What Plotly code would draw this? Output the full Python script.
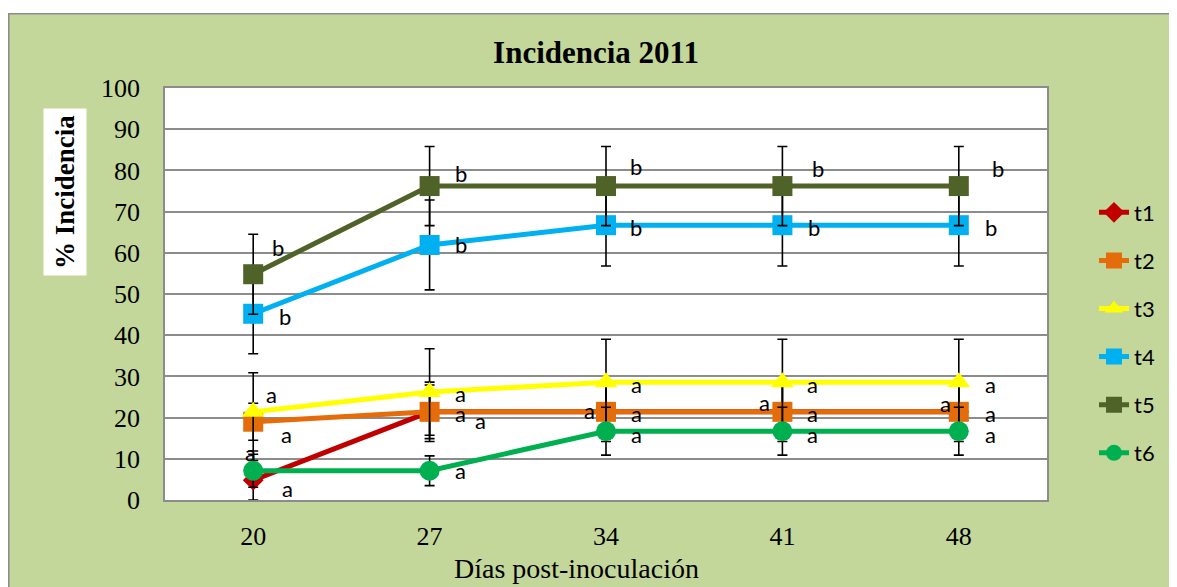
import plotly.graph_objects as go

days = ["20", "27", "34", "41", "48"]
series_names = ["t1", "t2", "t3", "t4", "t5", "t6"]
t1 = [4.8, 21.4, 21.4, 21.4, 21.4]
t2 = [19.0, 21.4, 21.4, 21.4, 21.4]
t3 = [21.4, 26.2, 28.6, 28.6, 28.6]
t4 = [45.2, 61.9, 66.7, 66.7, 66.7]
t5 = [54.8, 76.2, 76.2, 76.2, 76.2]
t6 = [7.1, 7.1, 16.7, 16.7, 16.7]
e1 = [4.8, 6.5, 6.5, 6.5, 6.5]
e2 = [4.5, 7.2, 7.2, 7.2, 7.2]
e3 = [9.5, 10.5, 10.4, 10.4, 10.4]
e4 = [9.7, 10.9, 9.9, 9.9, 9.9]
e5 = [9.7, 9.6, 9.6, 9.6, 9.6]
e6 = [4.0, 3.6, 5.8, 5.8, 5.8]
l1 = ["a", "a", "a", "a", "a"]
l2 = ["a", "a", "a", "a", "a"]
l3 = ["a", "a", "a", "a", "a"]
l4 = ["b", "b", "b", "b", "b"]
l5 = ["b", "b", "b", "b", "b"]
l6 = ["a", "a", "a", "a", "a"]

values = [t1, t2, t3, t4, t5, t6]
errors = [e1, e2, e3, e4, e5, e6]
letters = [l1, l2, l3, l4, l5, l6]

colors = ["#C00000", "#E46C0A", "#FFFF00", "#00B0F0", "#4F6228", "#00B050"]
symbols = ["diamond", "square", "triangle-up", "square", "square", "circle"]
msizes = [16, 20, 20, 20, 20, 20]
# label pixel offsets (dx right, dy down) relative to each point
offsets = [
    [(34, 8), (51, 9), (-17, -1), (-18, -9), (-13, -8)],
    [(33, 13), (31, 2), (30, 2), (30, 2), (32, 2)],
    [(18, -17), (31, 1), (30, 2), (30, 2), (32, 2)],
    [(32, 3), (31, 0), (30, 2), (32, 2), (32, 2)],
    [(25, -27), (31, -13), (30, -20), (36, -18), (39, -18)],
    [(-3, -18), (31, 0), (30, 3), (30, 3), (32, 3)],
]

fig = go.Figure()
for i, name in enumerate(series_names):
    fig.add_trace(go.Scatter(
        x=days, y=values[i], name=name, mode="lines+markers",
        line=dict(color=colors[i], width=5),
        marker=dict(symbol=symbols[i], size=msizes[i], color=colors[i]),
        error_y=dict(type="data", array=errors[i], visible=True,
                     color="black", thickness=1.6, width=5),
        legendgroup=name,
    ))

annotations = []
for i in range(len(series_names)):
    for j in range(len(days)):
        dx, dy = offsets[i][j]
        annotations.append(dict(
            x=j, y=values[i][j], xref="x", yref="y", text=letters[i][j],
            showarrow=False, xshift=dx, yshift=-dy,
            font=dict(family="Lato, Liberation Sans", size=22, color="black"),
        ))

# plot area in figure pixels: x 157..1039, y 80..492
def px(xp):
    return (xp - 157) / 882

def py(yp):
    return (492 - yp) / 412

annotations.append(dict(
    x=px(57), y=py(184), xref="paper", yref="paper",
    xanchor="center", yanchor="middle",
    text="<b>% Incidencia</b>", textangle=-90, showarrow=False,
    bgcolor="white", borderpad=6,
    font=dict(family="Liberation Serif", size=27, color="black"),
))
annotations.append(dict(
    x=px(568), y=py(560), xref="paper", yref="paper",
    xanchor="center", yanchor="middle",
    text="Días post-inoculación", showarrow=False,
    font=dict(family="Liberation Serif", size=28, color="black"),
))

green = "#C4D79B"
shapes = [
    dict(type="rect", xref="paper", yref="paper", x0=-0.5, x1=1.5,
         y0=py(5), y1=1.5, fillcolor="white", line=dict(width=0), layer="above"),
    dict(type="rect", xref="paper", yref="paper", x0=px(0.8), x1=px(1167),
         y0=-0.5, y1=py(5.8), fillcolor="rgba(0,0,0,0)",
         line=dict(color="#8C8C8C", width=1.6), layer="above"),
]

fig.update_layout(
    width=1169, height=579,
    margin=dict(l=157, r=130, t=80, b=87),
    paper_bgcolor=green, plot_bgcolor="white",
    title=dict(text="<b>Incidencia 2011</b>", x=588 / 1169, y=1 - 44 / 579,
               xanchor="center", yanchor="middle",
               font=dict(family="Liberation Serif", size=31, color="black")),
    showlegend=True,
    legend=dict(x=px(1086), y=py(325), xanchor="left", yanchor="middle",
                bgcolor="rgba(0,0,0,0)", tracegroupgap=16.5,
                font=dict(family="Lato, Liberation Sans", size=22, color="black")),
    annotations=annotations,
    shapes=shapes,
    xaxis=dict(type="category", range=[-0.5, 4.5], showgrid=False,
               showline=True, linecolor="#8C8C8C", linewidth=1.5, mirror=True,
               ticks="", ticklabelstandoff=12,
               tickfont=dict(family="Liberation Serif", size=26, color="black")),
    yaxis=dict(range=[0, 100], dtick=10, showgrid=True, gridcolor="#8C8C8C", gridwidth=1.5,
               showline=True, linecolor="#8C8C8C", linewidth=1.5, mirror=True,
               ticks="", ticklabelstandoff=18, zeroline=False,
               tickfont=dict(family="Liberation Serif", size=26, color="black")),
)

fig.write_html("out.html")
